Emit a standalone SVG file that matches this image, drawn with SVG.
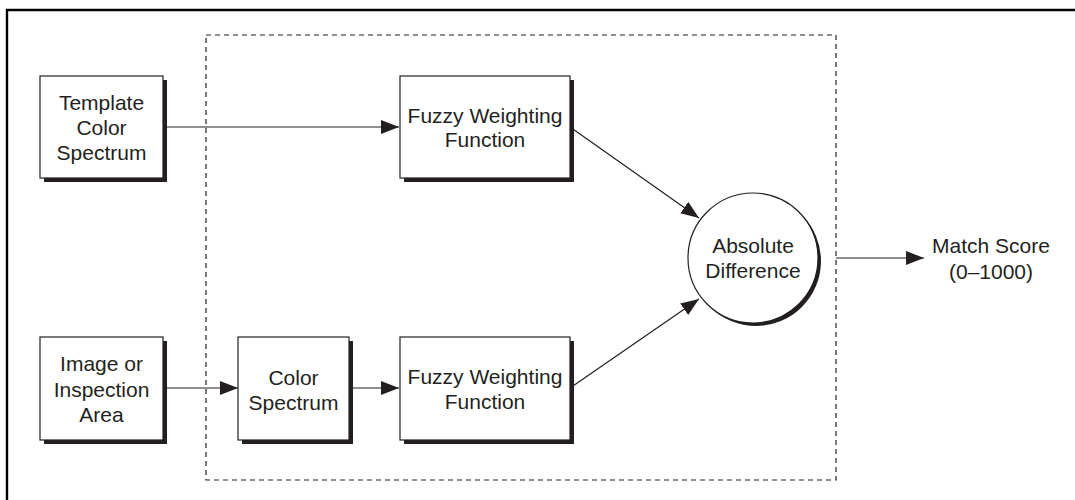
<svg xmlns="http://www.w3.org/2000/svg" width="1075" height="500" viewBox="0 0 1075 500">
<style>
.box{fill:#fff;stroke:#231f20;stroke-width:1.2}
.sh{fill:#231f20}
.t{font-family:"Liberation Sans",Arial,sans-serif;font-size:21px;fill:#231f20;text-anchor:middle}
.c{stroke:#231f20;stroke-width:1.2;fill:none}
</style>
<defs>
<marker id="ah" markerWidth="18" markerHeight="14" refX="18" refY="7" orient="auto" markerUnits="userSpaceOnUse">
<path d="M0,0 L18,7 L0,14 Z" fill="#231f20"/>
</marker>
</defs>
<rect width="1075" height="500" fill="#fff"/>
<g id="frame">
<path d="M7,500 V10 H1075" fill="none" stroke="#000" stroke-width="2.4"/>
</g>
<g id="boundary">
<rect x="206" y="35" width="630" height="445" fill="none" stroke="#231f20" stroke-width="1.2" stroke-dasharray="5,4"/>
</g>
<g id="connectors">
<line class="c" x1="163" y1="127" x2="399" y2="127" marker-end="url(#ah)"/>
<line class="c" x1="163" y1="388" x2="238" y2="388" marker-end="url(#ah)"/>
<line class="c" x1="349" y1="388" x2="399" y2="388" marker-end="url(#ah)"/>
<line class="c" x1="570" y1="127" x2="699" y2="218" marker-end="url(#ah)"/>
<line class="c" x1="570" y1="388" x2="699" y2="299" marker-end="url(#ah)"/>
<line class="c" x1="836" y1="258" x2="924" y2="258" marker-end="url(#ah)"/>
</g>
<g id="template">
<rect class="sh" x="44" y="80" width="123" height="102"/>
<rect class="box" x="40" y="76" width="123" height="102"/>
<text class="t" x="101.5" y="110">Template</text>
<text class="t" x="101.5" y="135">Color</text>
<text class="t" x="101.5" y="160">Spectrum</text>
</g>
<g id="image">
<rect class="sh" x="44" y="341" width="123" height="103"/>
<rect class="box" x="40" y="337" width="123" height="103"/>
<text class="t" x="101.5" y="371">Image or</text>
<text class="t" x="101.5" y="397">Inspection</text>
<text class="t" x="101.5" y="422">Area</text>
</g>
<g id="colorspectrum">
<rect class="sh" x="242" y="341" width="111" height="103"/>
<rect class="box" x="238" y="337" width="111" height="103"/>
<text class="t" x="293.5" y="385">Color</text>
<text class="t" x="293.5" y="410">Spectrum</text>
</g>
<g id="fuzzy1">
<rect class="sh" x="404" y="80" width="170" height="102"/>
<rect class="box" x="400" y="76" width="170" height="102"/>
<text class="t" x="485" y="123">Fuzzy Weighting</text>
<text class="t" x="485" y="147">Function</text>
</g>
<g id="fuzzy2">
<rect class="sh" x="404" y="341" width="170" height="103"/>
<rect class="box" x="400" y="337" width="170" height="103"/>
<text class="t" x="485" y="384">Fuzzy Weighting</text>
<text class="t" x="485" y="409">Function</text>
</g>
<g id="absdiff">
<circle cx="756" cy="261" r="65" fill="#231f20"/>
<circle cx="753" cy="258" r="65" fill="#fff" stroke="#231f20" stroke-width="1.2"/>
<text class="t" x="753" y="253">Absolute</text>
<text class="t" x="753" y="278">Difference</text>
</g>
<g id="matchscore">
<text class="t" x="991" y="253">Match Score</text>
<text class="t" x="991" y="279">(0–1000)</text>
</g>
</svg>
